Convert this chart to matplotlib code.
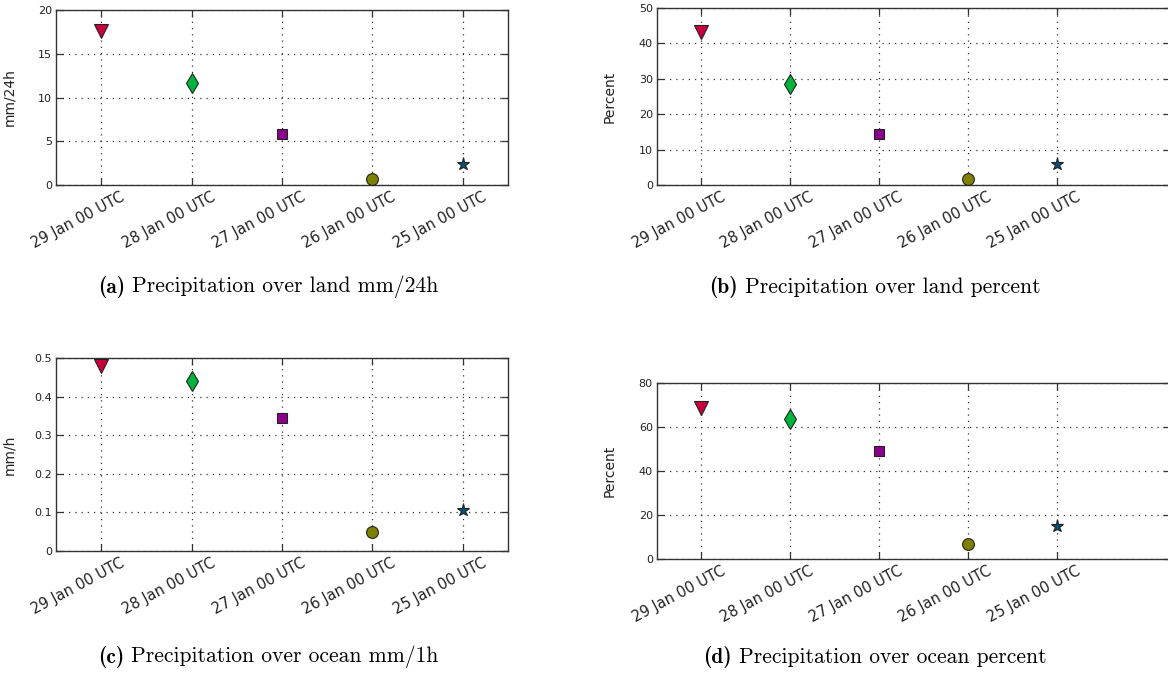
import matplotlib
matplotlib.use("Agg")
import matplotlib.pyplot as plt
import matplotlib.transforms as mtransforms
import numpy as np

# Forecast initialisation times (categories)
runs = ["29 Jan 00 UTC", "28 Jan 00 UTC", "27 Jan 00 UTC", "26 Jan 00 UTC", "25 Jan 00 UTC"]

# Precipitation scores per forecast run
land_mm24h = [17.6, 11.7, 5.8, 0.7, 2.4]
land_percent = [43.2, 28.5, 14.3, 1.7, 5.9]
ocean_mm1h = [0.480, 0.441, 0.345, 0.050, 0.105]
ocean_percent = [68.7, 63.5, 49.2, 7.0, 14.8]

# Marker style per run
markers = ["v", "d", "s", "o", "*"]
colors = ["#c8003c", "#00b43c", "#8b008b", "#808000", "#00527a"]
sizes = [10.5, 10.5, 7, 8.5, 9.5]

fig = plt.figure(figsize=(11.68, 6.82), dpi=100)
W, H = 1168.0, 682.0


def add_panel(left, right, top, bottom):
    return fig.add_axes([left / W, 1 - bottom / H, (right - left) / W, (bottom - top) / H])


panels = [
    dict(box=(56, 508, 10, 185), vals=land_mm24h, ylim=(0, 20), yticks=[0, 5, 10, 15, 20],
         ylabel="mm/24h", xlim=(0.5, 5.5)),
    dict(box=(657, 1170, 8, 185), vals=land_percent, ylim=(0, 50), yticks=[0, 10, 20, 30, 40, 50],
         ylabel="Percent", xlim=(0.5, 6.27)),
    dict(box=(56, 508, 358, 551), vals=ocean_mm1h, ylim=(0, 0.5), yticks=[0, 0.1, 0.2, 0.3, 0.4, 0.5],
         ylabel="mm/h", xlim=(0.5, 5.5)),
    dict(box=(657, 1170, 383, 559), vals=ocean_percent, ylim=(0, 80), yticks=[0, 20, 40, 60, 80],
         ylabel="Percent", xlim=(0.5, 6.27)),
]

x = np.arange(1, len(runs) + 1)

for p in panels:
    ax = add_panel(*p["box"])
    for xi, v, m, c, s in zip(x, p["vals"], markers, colors, sizes):
        ax.plot([xi], [v], marker=m, color=c, markersize=s, markeredgecolor="#222222",
                markeredgewidth=0.8, linestyle="none", zorder=3, clip_on=False)
    ax.set_xlim(*p["xlim"])
    ax.set_ylim(*p["ylim"])
    ax.set_yticks(p["yticks"])
    ax.set_yticklabels(["{:g}".format(t) for t in p["yticks"]], fontsize=8,
                       family="DejaVu Sans", color="#222222")
    ax.set_xticks(x)
    ax.set_xticklabels([])
    ax.tick_params(direction="in", length=5, width=0.9, top=True, right=True,
                   color="#333333", pad=3)
    ax.grid(True, linestyle=(0, (1, 4)), color="#333333", linewidth=0.9)
    for sp in ax.spines.values():
        sp.set_color("#333333")
        sp.set_linewidth(1.0)
    ax.set_ylabel(p["ylabel"], fontsize=10, family="DejaVu Sans", color="#222222")
    ax.yaxis.set_label_coords(-40 / (p["box"][1] - p["box"][0]), 0.5)
    # rotated run labels below the axis
    trans = mtransforms.blended_transform_factory(ax.transData, ax.transAxes) + \
        mtransforms.ScaledTranslation(19 / 100, -4 / 100, fig.dpi_scale_trans)
    for xi, lab in zip(x, runs):
        ax.text(xi, 0, lab, transform=trans, rotation=28, rotation_mode="anchor",
                ha="right", va="top", fontsize=10.5, family="DejaVu Sans", color="#222222")

# sub-figure captions
captions = [
    ("(a)", "Precipitation over land mm/24h", 268, 287),
    ("(b)", "Precipitation over land percent", 875, 287),
    ("(c)", "Precipitation over ocean mm/1h", 268, 657),
    ("(d)", "Precipitation over ocean percent", 875, 657),
]
renderer = fig.canvas.get_renderer()
for tag, txt, cx, cy in captions:
    t1 = fig.text(0, 0, tag, fontsize=15.5, family="cmb10", va="center", ha="left")
    t2 = fig.text(0, 0, " " + txt, fontsize=15.5, family="cmr10", va="center", ha="left")
    w1 = t1.get_window_extent(renderer).width
    w2 = t2.get_window_extent(renderer).width
    x0 = cx - (w1 + w2) / 2
    t1.set_position((x0 / W, 1 - cy / H))
    t2.set_position(((x0 + w1) / W, 1 - cy / H))

fig.savefig("out.png", dpi=100)
